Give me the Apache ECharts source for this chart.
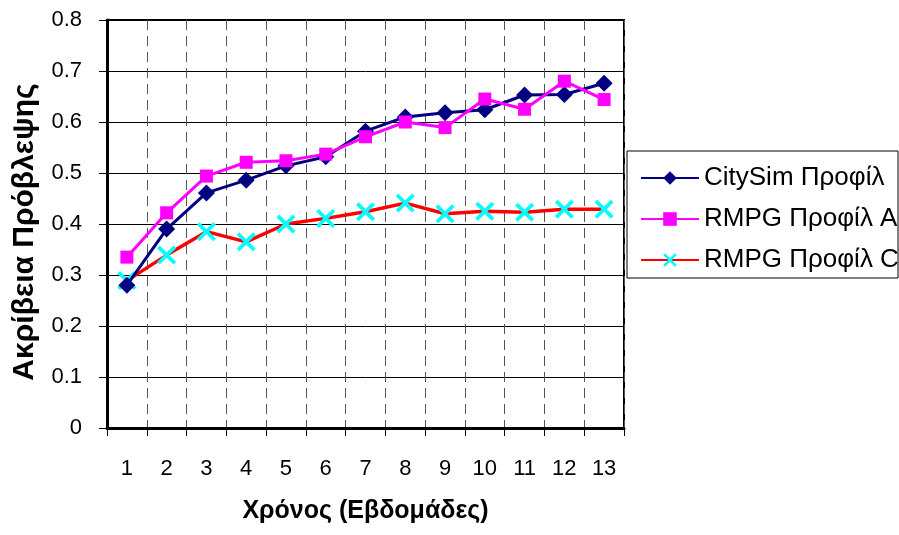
<!DOCTYPE html>
<html>
<head>
<meta charset="utf-8">
<script src="https://cdn.jsdelivr.net/npm/echarts@6/dist/echarts.min.js"></script>
<style>html,body{margin:0;padding:0;background:#fff;}#c{width:899px;height:535px;}</style>
</head>
<body>
<div id="c"></div>
<script>
const categories = ['1','2','3','4','5','6','7','8','9','10','11','12','13'];
const citySim = [0.28, 0.39, 0.461, 0.486, 0.514, 0.532, 0.582, 0.610, 0.618, 0.624, 0.653, 0.654, 0.676];
const rmpgA = [0.335, 0.422, 0.494, 0.521, 0.524, 0.537, 0.571, 0.600, 0.589, 0.645, 0.625, 0.680, 0.644];
const rmpgC = [0.289, 0.339, 0.385, 0.365, 0.400, 0.411, 0.424, 0.441, 0.420, 0.425, 0.423, 0.429, 0.429];
const seriesNames = ['CitySim Προφίλ', 'RMPG Προφίλ A', 'RMPG Προφίλ C'];
const xTitle = 'Χρόνος (Εβδομάδες)';
const yTitle = 'Ακρίβεια Πρόβλεψης';

const font = 'Arial, "Liberation Sans", sans-serif';
const xSym = 'path://M0,1.4 L1.4,0 L5,3.6 L8.6,0 L10,1.4 L6.4,5 L10,8.6 L8.6,10 L5,6.4 L1.4,10 L0,8.6 L3.6,5 Z';

const chart = echarts.init(document.getElementById('c'), null, {renderer: 'canvas'});
chart.setOption({
  animation: false,
  backgroundColor: '#fff',
  grid: {left: 107, right: 275, top: 20, bottom: 107, show: true, borderColor: '#000', borderWidth: 2},
  graphic: [{
    type: 'rect', shape: {x: 627, y: 151, width: 271, height: 127},
    style: {fill: 'none', stroke: '#000', lineWidth: 1}, z: 10
  }],
  legend: {
    orient: 'vertical', left: 635, top: 160,
    itemWidth: 58, itemHeight: 17, itemGap: 15,
    textStyle: {fontFamily: font, fontSize: 26, lineHeight: 26, color: '#000'},
    data: seriesNames
  },
  xAxis: {
    type: 'category', data: categories, boundaryGap: true,
    name: xTitle, nameLocation: 'middle', nameGap: 71,
    nameTextStyle: {fontFamily: font, fontSize: 25, fontWeight: 'bold', color: '#000'},
    axisLine: {lineStyle: {color: '#000', width: 3}},
    axisTick: {show: true, inside: false, length: 8, lineStyle: {color: '#000'}},
    axisLabel: {fontFamily: font, fontSize: 22, color: '#000', margin: 30},
    splitLine: {show: true, interval: 0, lineStyle: {color: '#555', type: [10, 6], width: 1}}
  },
  yAxis: {
    type: 'value', min: 0, max: 0.8, interval: 0.1,
    name: yTitle, nameLocation: 'middle', nameGap: 67, nameRotate: 90,
    nameTextStyle: {fontFamily: font, fontSize: 30, fontWeight: 'bold', color: '#000', padding: [0, 16, 0, 0]},
    axisLine: {show: true, lineStyle: {color: '#000', width: 3}},
    axisTick: {show: true, inside: false, length: 8, lineStyle: {color: '#000'}},
    axisLabel: {fontFamily: font, fontSize: 22, color: '#000', margin: 25,
      formatter: v => v === 0 ? '0' : v.toFixed(1)},
    splitLine: {show: true, lineStyle: {color: '#000', width: 1}}
  },
  series: [
    {name: seriesNames[0], type: 'line', data: citySim, symbol: 'diamond', symbolSize: 17,
     lineStyle: {color: '#000080', width: 3}, itemStyle: {color: '#000080'}, z: 3},
    {name: seriesNames[1], type: 'line', data: rmpgA, symbol: 'rect', symbolSize: 13,
     lineStyle: {color: '#FF00FF', width: 3}, itemStyle: {color: '#FF00FF'}, z: 4},
    {name: seriesNames[2], type: 'line', data: rmpgC, symbol: xSym, symbolSize: 19,
     lineStyle: {color: '#FF0000', width: 3.5}, itemStyle: {color: '#00FFFF'}, z: 2}
  ]
});
</script>
</body>
</html>
